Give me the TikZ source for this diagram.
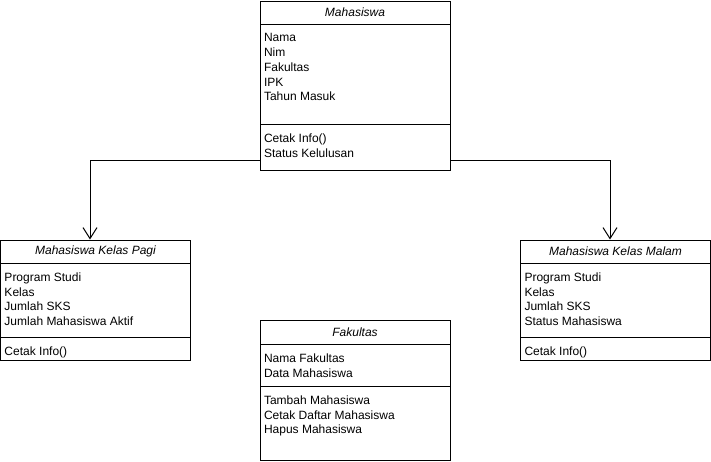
\documentclass[tikz,border=0pt]{standalone}
\usepackage{fontspec}
\setmainfont{Liberation Sans}
\usetikzlibrary{positioning, arrows.meta}
\tikzstyle{classname} = [draw, minimum width=190pt, minimum height=23pt, inner sep=0pt, font=\fontsize{12}{14.5}\selectfont\itshape]
\tikzstyle{compartment} = [draw, minimum width=190pt, inner sep=0pt]
\tikzstyle{members} = [anchor=north west, align=left, inner xsep=4pt, inner ysep=5pt, yshift=-4.5pt, font=\fontsize{12}{14.8}\selectfont]
\tikzstyle{arrow} = [-{Straight Barb[length=11pt, width=14pt]}]

\begin{document}
\begin{tikzpicture}[x=1pt, y=1pt, line width=1pt]
        \useasboundingbox (0,0) rectangle (711,-461);
        % Mahasiswa
        \node[classname] (mhs) at (355,-12.5) {Mahasiswa};
        \node[compartment, minimum height=100pt, below=-1pt of mhs] (mhs-attr) {};
        \node[compartment, minimum height=46pt, below=-1pt of mhs-attr] (mhs-meth) {};
        \node[members] (mhs-attr-txt) at (mhs-attr.north west) {Nama\\Nim\\Fakultas\\IPK\\Tahun Masuk};
        \node[members] (mhs-meth-txt) at (mhs-meth.north west) {Cetak Info()\\Status Kelulusan};
        % Mahasiswa Kelas Pagi
        \node[classname] (pagi) at (95.5,-251.5) {Mahasiswa Kelas Pagi};
        \node[compartment, minimum height=74pt, below=-1pt of pagi] (pagi-attr) {};
        \node[compartment, minimum height=23pt, below=-1pt of pagi-attr] (pagi-meth) {};
        \node[members] (pagi-attr-txt) at (pagi-attr.north west) {Program Studi\\Kelas\\Jumlah SKS\\Jumlah Mahasiswa Aktif};
        \node[members] (pagi-meth-txt) at (pagi-meth.north west) {Cetak Info()};
        % Mahasiswa Kelas Malam
        \node[classname] (malam) at (615.5,-251.5) {Mahasiswa Kelas Malam};
        \node[compartment, minimum height=74pt, below=-1pt of malam] (malam-attr) {};
        \node[compartment, minimum height=23pt, below=-1pt of malam-attr] (malam-meth) {};
        \node[members] (malam-attr-txt) at (malam-attr.north west) {Program Studi\\Kelas\\Jumlah SKS\\Status Mahasiswa};
        \node[members] (malam-meth-txt) at (malam-meth.north west) {Cetak Info()};
        % Fakultas
        \node[classname, minimum height=24pt] (fak) at (355,-332) {Fakultas};
        \node[compartment, minimum height=42pt, below=-1pt of fak] (fak-attr) {};
        \node[compartment, minimum height=74pt, below=-1pt of fak-attr] (fak-meth) {};
        \node[members] (fak-attr-txt) at (fak-attr.north west) {Nama Fakultas\\Data Mahasiswa};
        \node[members] (fak-meth-txt) at (fak-meth.north west) {Tambah Mahasiswa\\Cetak Daftar Mahasiswa\\Hapus Mahasiswa};
        % Inheritance
        \draw[arrow] ([yshift=-13pt]mhs-meth.west) -| ([xshift=-5.5pt]pagi.north);
        \draw[arrow] ([yshift=-13pt]mhs-meth.east) -| ([xshift=-5.5pt]malam.north);
\end{tikzpicture}
\end{document}
